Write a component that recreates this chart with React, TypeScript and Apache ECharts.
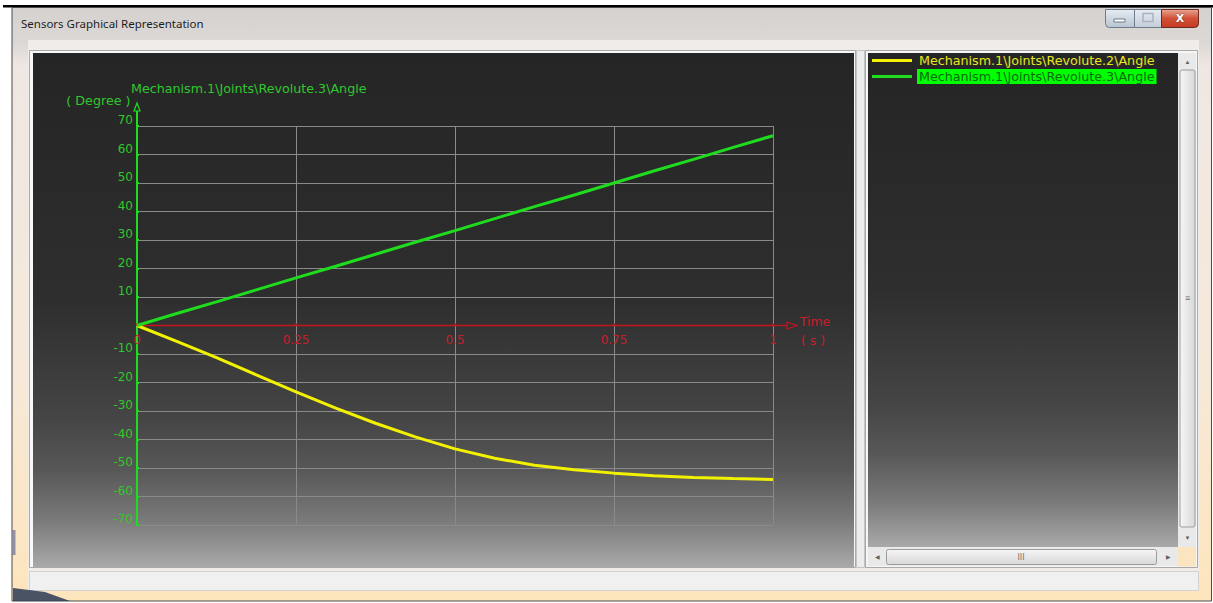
import { useEffect, useRef } from "react";
import * as echarts from "echarts";

// ---- data ----
const TIME = [0, 0.0625, 0.125, 0.1875, 0.25, 0.3125, 0.375, 0.4375, 0.5, 0.5625, 0.625, 0.6875, 0.75, 0.8125, 0.875, 0.9375, 1];
const REVOLUTE2_ANGLE = [0, -5.6, -11.3, -17.3, -23.3, -29.0, -34.3, -39.1, -43.3, -46.6, -49.0, -50.6, -51.8, -52.7, -53.3, -53.7, -54.0];
const REVOLUTE3_ANGLE = [0, 4.2, 8.3, 12.5, 16.7, 20.8, 25.0, 29.2, 33.3, 37.5, 41.7, 45.8, 50.0, 54.2, 58.3, 62.5, 66.6];
const SERIES_NAMES = ["Mechanism.1\\Joints\\Revolute.2\\Angle", "Mechanism.1\\Joints\\Revolute.3\\Angle"];
const X_MIN = 0;
const X_MAX = 1;
const X_STEP = 0.25;
const Y_MIN = -70;
const Y_MAX = 70;
const Y_STEP = 10;
const Y_NAME = "( Degree )";
const Y_TITLE = "Mechanism.1\\Joints\\Revolute.3\\Angle";
const X_NAME = "Time";
const X_UNIT = "( s )";
const WINDOW_TITLE = "Sensors Graphical Representation";

const FONT = "DejaVu Sans";
const UI_FONT = "Noto Sans";
const GREEN = "#1fdc1f";
const GREEN_TXT = "#2ec82e";
const YELLOW = "#f2f200";
const RED = "#c8141e";

export default function App() {
  const ref = useRef<HTMLDivElement>(null);
  useEffect(() => {
    const el = ref.current!;
    const chart = echarts.init(el, undefined, { renderer: "svg" });

    const panelGrad = () =>
      new echarts.graphic.LinearGradient(0, 0, 0, 1, [
        { offset: 0, color: "#252525" },
        { offset: 0.48, color: "#2e2e2e" },
        { offset: 0.71, color: "#454545" },
        { offset: 0.81, color: "#575757" },
        { offset: 0.91, color: "#7a7a7a" },
        { offset: 1, color: "#a9a9a9" },
      ]);

    const Z = -10;
    const chrome: any[] = [
      { type: "rect", z: Z, shape: { x: 3, y: 5, width: 1210, height: 2.4 }, style: { fill: "#000" } },
      {
        type: "rect", z: Z,
        shape: { x: 12, y: 7.5, width: 1199.5, height: 593.5 },
        style: {
          fill: new echarts.graphic.LinearGradient(0, 0, 0, 1, [
            { offset: 0, color: "#d4d1cf" },
            { offset: 0.06, color: "#dcd8d5" },
            { offset: 0.1, color: "#efe7e3" },
            { offset: 0.6, color: "#f6e9da" },
            { offset: 1, color: "#fde5bc" },
          ]),
          stroke: "#4a4a4a", lineWidth: 1,
        },
      },
      { type: "rect", z: Z, shape: { x: 28, y: 40, width: 1171, height: 551 }, style: { fill: "#efecea" } },
      // chart panel
      { type: "rect", z: Z, shape: { x: 29.5, y: 50.5, width: 826, height: 517 }, style: { fill: "#f8f8f8", stroke: "#a9a9a9", lineWidth: 1 } },
      { type: "rect", z: Z, shape: { x: 33, y: 53, width: 821, height: 514 }, style: { fill: panelGrad() } },
      // splitter
      { type: "rect", z: Z, shape: { x: 856.5, y: 50.5, width: 8, height: 517 }, style: { fill: "#ececec", stroke: "#c4c4c4", lineWidth: 1 } },
      // right panel
      { type: "rect", z: Z, shape: { x: 865.5, y: 50.5, width: 332, height: 517 }, style: { fill: "#f6f6f6", stroke: "#a9a9a9", lineWidth: 1 } },
      { type: "rect", z: Z, shape: { x: 868, y: 53, width: 310, height: 494 }, style: { fill: panelGrad() } },
      // vertical scrollbar
      { type: "rect", z: Z, shape: { x: 1178, y: 53, width: 18, height: 494 }, style: { fill: "#e9e9e9" } },
      {
        type: "rect", z: Z, shape: { x: 1180, y: 70, width: 15, height: 457, r: 2 },
        style: {
          fill: new echarts.graphic.LinearGradient(0, 0, 1, 0, [
            { offset: 0, color: "#f6f6f6" },
            { offset: 1, color: "#d8d8d8" },
          ]),
          stroke: "#9c9c9c", lineWidth: 1,
        },
      },
      { type: "text", z: Z, x: 1187.5, y: 62, style: { text: "▲", fill: "#606060", fontSize: 6, align: "center", verticalAlign: "middle" } },
      { type: "text", z: Z, x: 1187.5, y: 538, style: { text: "▼", fill: "#606060", fontSize: 6, align: "center", verticalAlign: "middle" } },
      { type: "text", z: Z, x: 1187.5, y: 298, style: { text: "≡", fill: "#707070", fontSize: 9, align: "center", verticalAlign: "middle" } },
      // horizontal scrollbar
      { type: "rect", z: Z, shape: { x: 868, y: 547, width: 310, height: 19 }, style: { fill: "#e9e9e9" } },
      {
        type: "rect", z: Z, shape: { x: 886.5, y: 549.5, width: 270, height: 15, r: 2 },
        style: {
          fill: new echarts.graphic.LinearGradient(0, 0, 0, 1, [
            { offset: 0, color: "#f6f6f6" },
            { offset: 1, color: "#d8d8d8" },
          ]),
          stroke: "#9c9c9c", lineWidth: 1,
        },
      },
      { type: "text", z: Z, x: 877, y: 557, style: { text: "◀", fill: "#606060", fontSize: 6, align: "center", verticalAlign: "middle" } },
      { type: "text", z: Z, x: 1168, y: 557, style: { text: "▶", fill: "#606060", fontSize: 6, align: "center", verticalAlign: "middle" } },
      { type: "text", z: Z, x: 1021, y: 557, style: { text: "III", fill: "#707070", fontSize: 8, fontFamily: FONT, align: "center", verticalAlign: "middle" } },
      { type: "rect", z: Z, shape: { x: 1178, y: 547, width: 18, height: 19.5 }, style: { fill: "#fbe4c0" } },
      // status bar
      { type: "rect", z: Z, shape: { x: 29.5, y: 571.5, width: 1169, height: 19 }, style: { fill: "#f0f0f0", stroke: "#d2d2d2", lineWidth: 1 } },
      // title
      { type: "text", z: Z, x: 21, y: 23.5, style: { text: WINDOW_TITLE, fill: "#1e1e1e", fontSize: 11.5, fontFamily: UI_FONT, align: "left", verticalAlign: "middle" } },
      // caption buttons
      {
        type: "rect", z: Z, shape: { x: 1105.5, y: 9.5, width: 29, height: 18, r: [0, 0, 0, 4] },
        style: {
          fill: new echarts.graphic.LinearGradient(0, 0, 0, 1, [
            { offset: 0, color: "#e6ebf1" },
            { offset: 1, color: "#b9c5d3" },
          ]),
          stroke: "#6d7b8c", lineWidth: 1,
        },
      },
      { type: "rect", z: Z, shape: { x: 1114, y: 19, width: 11, height: 3 }, style: { fill: "#ffffff", stroke: "#53606f", lineWidth: 0.8 } },
      {
        type: "rect", z: Z, shape: { x: 1134.5, y: 9.5, width: 27, height: 18 },
        style: {
          fill: new echarts.graphic.LinearGradient(0, 0, 0, 1, [
            { offset: 0, color: "#e6ebf1" },
            { offset: 1, color: "#c4ced9" },
          ]),
          stroke: "#6d7b8c", lineWidth: 1,
        },
      },
      { type: "rect", z: Z, shape: { x: 1143, y: 13.5, width: 10, height: 8 }, style: { fill: "none", stroke: "#a9b4c1", lineWidth: 1.5 } },
      {
        type: "rect", z: Z, shape: { x: 1161.5, y: 9.5, width: 37, height: 18, r: [0, 0, 4, 0] },
        style: {
          fill: new echarts.graphic.LinearGradient(0, 0, 0, 1, [
            { offset: 0, color: "#e8a592" },
            { offset: 0.5, color: "#d24f36" },
            { offset: 1, color: "#c43a22" },
          ]),
          stroke: "#6b2a20", lineWidth: 1,
        },
      },
      { type: "text", z: Z, x: 1180, y: 18.5, style: { text: "X", fill: "#ffffff", fontSize: 11, fontWeight: "bold", fontFamily: FONT, align: "center", verticalAlign: "middle", stroke: "#5a2a20", lineWidth: 0.6 } },
      // desktop bits at the bottom left
      { type: "polygon", z: Z, shape: { points: [[13, 588], [45, 592], [70, 601], [13, 601]] }, style: { fill: "#2a3a55", opacity: 0.85 } },
      { type: "rect", z: Z, shape: { x: 12.5, y: 530, width: 3, height: 25 }, style: { fill: "#6a6aa0", opacity: 0.7 } },
    ];

    const option: any = {
      animation: false,
      backgroundColor: "#ffffff",
      textStyle: { fontFamily: FONT },
      grid: { left: 137, top: 126, width: 636, height: 399, containLabel: false },
      xAxis: {
        type: "value",
        min: X_MIN,
        max: X_MAX,
        interval: X_STEP,
        offset: 0,
        axisLine: { show: true, onZero: false, lineStyle: { color: RED, width: 1.3 } },
        axisTick: { show: true, inside: true, length: 2, lineStyle: { color: RED, width: 2 } },
        axisLabel: { color: "#c81e2a", fontSize: 12, fontFamily: FONT, margin: 8, showMinLabel: true, showMaxLabel: true },
        splitLine: { show: true, lineStyle: { color: "#8a8a8a", width: 1 } },
      },
      yAxis: {
        type: "value",
        min: Y_MIN,
        max: Y_MAX,
        interval: Y_STEP,
        axisLine: { show: true, onZero: false, lineStyle: { color: GREEN, width: 2 } },
        axisTick: { show: true, inside: true, length: 2, lineStyle: { color: GREEN, width: 2 } },
        axisLabel: {
          color: GREEN_TXT,
          fontSize: 12,
          fontFamily: FONT,
          margin: 4,
          verticalAlign: "bottom",
          formatter: (v: number) => (v === 0 ? "" : String(v)),
        },
        splitLine: { show: true, lineStyle: { color: "#8a8a8a", width: 1 } },
      },
      legend: {
        orient: "vertical",
        left: 872,
        top: 53,
        padding: 0,
        itemGap: 1,
        itemWidth: 40,
        itemHeight: 3,
        icon: "rect",
        selectedMode: false,
        textStyle: { fontSize: 12.7, lineHeight: 15, fontFamily: FONT },
        data: [
          { name: SERIES_NAMES[0], textStyle: { color: "#e6e61e", padding: [0, 2] } },
          { name: SERIES_NAMES[1], textStyle: { color: "#0c6a10", backgroundColor: "#00ff00", padding: [0, 2] } },
        ],
      },
      series: [
        {
          name: SERIES_NAMES[0],
          type: "line",
          showSymbol: false,
          color: YELLOW,
          lineStyle: { color: YELLOW, width: 3 },
          data: TIME.map((t, i) => [t, REVOLUTE2_ANGLE[i]]),
          z: 3,
        },
        {
          name: SERIES_NAMES[1],
          type: "line",
          showSymbol: false,
          color: GREEN,
          lineStyle: { color: GREEN, width: 3 },
          data: TIME.map((t, i) => [t, REVOLUTE3_ANGLE[i]]),
          z: 4,
        },
      ],
      graphic: { elements: chrome },
    };
    chart.setOption(option);

    const zero = chart.convertToPixel({ gridIndex: 0 }, [X_MIN, 0]) as number[];
    const bottom = chart.convertToPixel({ gridIndex: 0 }, [X_MIN, Y_MIN]) as number[];
    const end = chart.convertToPixel({ gridIndex: 0 }, [X_MAX, 0]) as number[];
    const top = chart.convertToPixel({ gridIndex: 0 }, [X_MIN, Y_MAX]) as number[];
    const ex = end[0];
    const ey = end[1];
    const tx = top[0];
    const ty = top[1];

    const overlay: any[] = [
      { type: "line", z: 5, shape: { x1: ex, y1: ey, x2: ex + 14, y2: ey }, style: { stroke: RED, lineWidth: 1.3 } },
      { type: "polygon", z: 5, shape: { points: [[ex + 14, ey - 3.5], [ex + 24, ey], [ex + 14, ey + 3.5]] }, style: { fill: "none", stroke: RED, lineWidth: 1.2 } },
      { type: "line", z: 5, shape: { x1: tx, y1: ty, x2: tx, y2: ty - 15 }, style: { stroke: GREEN, lineWidth: 2 } },
      { type: "polygon", z: 5, shape: { points: [[tx - 3, ty - 15], [tx, ty - 23], [tx + 3, ty - 15]] }, style: { fill: "none", stroke: GREEN, lineWidth: 1.2 } },
      { type: "text", z: 5, x: tx - 6.5, y: ty - 25.5, style: { text: Y_NAME, fill: GREEN_TXT, fontSize: 12.7, fontFamily: FONT, align: "right", verticalAlign: "middle" } },
      { type: "text", z: 5, x: tx - 6, y: ty - 37.5, style: { text: Y_TITLE, fill: GREEN_TXT, fontSize: 12.7, fontFamily: FONT, align: "left", verticalAlign: "middle" } },
      { type: "text", z: 5, x: ex + 42, y: ey - 4, style: { text: X_NAME, fill: "#c81e2a", fontSize: 12.5, fontFamily: FONT, align: "center", verticalAlign: "middle" } },
      { type: "text", z: 5, x: ex + 40, y: ey + 15, style: { text: X_UNIT, fill: "#c81e2a", fontSize: 12.5, fontFamily: FONT, align: "center", verticalAlign: "middle" } },
    ];
    chart.setOption({
      xAxis: { offset: -(bottom[1] - zero[1]) },
      graphic: { elements: [...chrome, ...overlay] },
    });

    return () => chart.dispose();
  }, []);

  return (
    <div
      ref={ref}
      style={{ position: "fixed", left: 0, top: 0, width: 1213, height: 603 }}
    />
  );
}
